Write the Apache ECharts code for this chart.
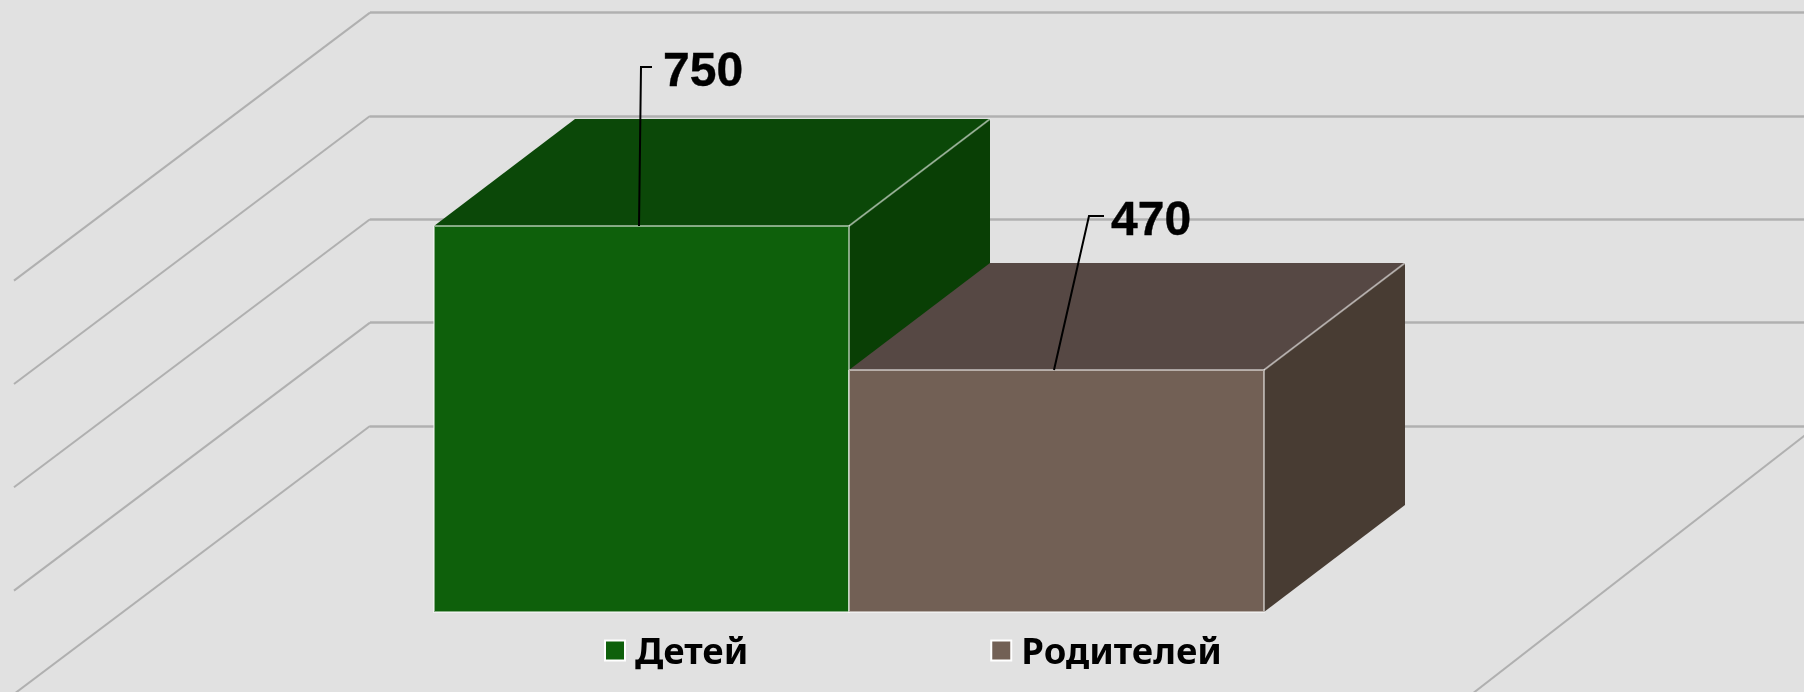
<!DOCTYPE html>
<html>
<head>
<meta charset="utf-8">
<title>Детей и родителей</title>
<style>
  html, body { margin: 0; height: 100%; background: #e1e1e1; overflow: hidden; }
  #chart { width: 1804px; height: 692px; }
</style>
<script src="https://cdn.jsdelivr.net/npm/echarts@6/dist/echarts.min.js"></script>
</head>
<body>
<div id="chart"></div>
<script>
const categories = ['Детей', 'Родителей']
const childrenValues = [750]
const parentValues = [470]
const wallTicks = [0, 200, 400, 600, 800]

const AXIS_MAX = 800
const DEPTH_X = 141
const DEPTH_Y = -107
const FLOOR_RIGHT_OVERHANG = 13
const FONT = '"Noto Sans", sans-serif'
const LABEL_FONT = '"Liberation Sans", sans-serif'

const GREEN = { front: '#0e600b', top: '#0b4808', side: '#093f05', edge: 'rgba(255,255,255,0.5)' }
const BROWN = { front: '#726055', top: '#564844', side: '#483c33', edge: 'rgba(255,255,255,0.5)' }

// leader line: foot offset on the bar top, then elbow and end, relative to the bar's top left corner
const LEADERS = {
  0: { foot: 205, elbowX: 207, elbowY: -159, endX: 218, textX: 229, textY: -153 },
  1: { foot: 205, elbowX: 240, elbowY: -154, endX: 255, textX: 262, textY: -148 },
}

function poly(points, fill) {
  return { type: 'polygon', shape: { points }, style: { fill } }
}

function edge(points, color, width) {
  return { type: 'polyline', shape: { points }, style: { fill: null, stroke: color, lineWidth: width } }
}

function renderBox(colors) {
  return (params, api) => {
    const index = api.value(0)
    const top = api.coord([index, api.value(1)])
    const base = api.coord([index, 0])
    const band = api.size([1, 0])[0]
    const left = top[0] - band / 2
    const right = top[0] + band / 2
    const leader = LEADERS[index]

    const frontTL = [left, top[1]]
    const frontTR = [right, top[1]]
    const frontBR = [right, base[1]]
    const frontBL = [left, base[1]]
    const backTL = [left + DEPTH_X, top[1] + DEPTH_Y]
    const backTR = [right + DEPTH_X, top[1] + DEPTH_Y]
    const backBR = [right + DEPTH_X, base[1] + DEPTH_Y]

    return {
      type: 'group',
      children: [
        poly([frontTR, backTR, backBR, frontBR], colors.side),
        poly([frontTL, backTL, backTR, frontTR], colors.top),
        poly([frontTL, frontTR, frontBR, frontBL], colors.front),
        edge([frontTL, frontTR, frontBR, frontBL, frontTL], colors.edge, 2),
        edge([frontTR, backTR], colors.edge, 2),
        edge([
          [left + leader.foot, top[1]],
          [left + leader.elbowX, top[1] + leader.elbowY],
          [left + leader.endX, top[1] + leader.elbowY],
        ], '#000000', 2),
        {
          type: 'text',
          x: left + leader.textX,
          y: top[1] + leader.textY,
          style: {
            text: String(api.value(1)),
            font: 'bold 48px ' + LABEL_FONT,
            fill: '#000000',
            stroke: '#000000',
            lineWidth: 0.4,
            textAlign: 'left',
            textVerticalAlign: 'middle',
          },
        },
      ],
    }
  }
}

// receding wall lines from the back wall to the front of the floor
function renderWallLine(params, api) {
  const start = api.coord([api.value(0), api.value(1)])
  const onRight = api.value(0) !== 0
  const x1 = onRight ? start[0] + FLOOR_RIGHT_OVERHANG : start[0]
  const dx = onRight ? -345 : -356
  return {
    type: 'line',
    shape: { x1, y1: start[1], x2: x1 + dx, y2: start[1] + 268 },
    style: { stroke: '#b0b0b0', lineWidth: 2 },
  }
}

const chart = echarts.init(document.getElementById('chart'))

chart.setOption({
  animation: false,
  backgroundColor: '#e1e1e1',
  legend: {
    data: [
      { name: categories[0], icon: 'rect' },
      { name: categories[1], icon: 'rect' },
    ],
    left: 604,
    top: 635,
    padding: 0,
    itemWidth: 20,
    itemHeight: 20,
    itemGap: 242,
    itemStyle: { borderColor: '#ffffff', borderWidth: 2 },
    formatter: (name) => `{name|${name}}`,
    textStyle: {
      rich: {
        name: {
          color: '#000000',
          fontFamily: FONT,
          fontWeight: 'bold',
          fontSize: 36.5,
          padding: [6, 0, 0, 5],
        },
      },
    },
    selectedMode: false,
  },
  grid: [
    // front plane of the boxes
    { left: 434, width: 830, top: 200.2, height: 411.8 },
    // back wall
    { left: 370, width: 1447, top: 12.6, height: 413.4 },
  ],
  xAxis: [
    { type: 'category', gridIndex: 0, data: categories, show: false },
    { type: 'value', gridIndex: 1, min: 0, max: 1, show: false },
  ],
  yAxis: [
    { type: 'value', gridIndex: 0, min: 0, max: AXIS_MAX, show: false },
    {
      type: 'value',
      gridIndex: 1,
      min: 0,
      max: AXIS_MAX,
      interval: 200,
      axisLabel: { show: false },
      axisLine: { show: false },
      axisTick: { show: false },
      splitLine: { show: true, lineStyle: { color: '#b0b0b0', width: 2.5 } },
    },
  ],
  series: [
    {
      type: 'custom',
      name: 'wall',
      xAxisIndex: 1,
      yAxisIndex: 1,
      clip: false,
      silent: true,
      encode: { x: 0, y: 1 },
      data: wallTicks.map((tick) => [0, tick]).concat([[1, 0]]),
      renderItem: renderWallLine,
    },
    {
      type: 'custom',
      name: categories[0],
      xAxisIndex: 0,
      yAxisIndex: 0,
      clip: false,
      itemStyle: { color: GREEN.front },
      encode: { x: 0, y: 1 },
      data: childrenValues.map((value) => [0, value]),
      renderItem: renderBox(GREEN),
    },
    {
      type: 'custom',
      name: categories[1],
      xAxisIndex: 0,
      yAxisIndex: 0,
      clip: false,
      itemStyle: { color: BROWN.front },
      encode: { x: 0, y: 1 },
      data: parentValues.map((value) => [1, value]),
      renderItem: renderBox(BROWN),
    },
  ],
})

window.addEventListener('resize', () => chart.resize())
</script>
</body>
</html>
